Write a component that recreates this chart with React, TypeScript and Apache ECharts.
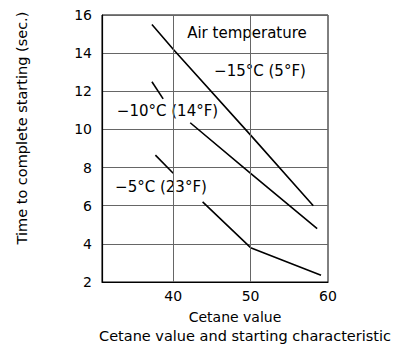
import React, { useEffect, useRef } from "react";
import * as echarts from "echarts";

// Y axis ticks (sec.)
const yTicks = [2, 4, 6, 8, 10, 12, 14, 16];
// X axis labels (cetane value)
const xLabels = [40, 50, 60];
const xGridValues = [40, 50];

// -15°C (5°F)
const cetaneM15 = [37.25, 40, 50, 58.1];
const timeM15 = [15.5, 14.2, 9.7, 6.0];
// -10°C (14°F), two drawn segments
const cetaneM10a = [37.25, 38.7];
const timeM10a = [12.5, 11.6];
const cetaneM10b = [42.2, 50, 58.6];
const timeM10b = [10.35, 7.7, 4.8];
// -5°C (23°F), two drawn segments
const cetaneM5a = [37.7, 40];
const timeM5a = [8.65, 7.7];
const cetaneM5b = [43.8, 50, 59.1];
const timeM5b = [6.2, 3.8, 2.35];

const labelTexts = ["Air temperature", "−15°C (5°F)", "−10°C (14°F)", "−5°C (23°F)"];
const yName = "Time to complete starting (sec.)";
const xName = "Cetane value";
const titleText = "Cetane value and starting characteristic";

const FONT = "DejaVu Sans";

const zip = (xs: number[], ys: number[]) => xs.map((x, i) => [x, ys[i]]);

export default function App() {
  const ref = useRef<HTMLDivElement>(null);
  useEffect(() => {
    if (!ref.current) return;
    const chart = echarts.init(ref.current, undefined, { renderer: "svg" });
    const lineStyle = { color: "#000", width: 1.6 };
    const mk = (name: string, xs: number[], ys: number[], extra: any = {}) => ({
      type: "line",
      name,
      data: zip(xs, ys),
      symbol: "none",
      showSymbol: false,
      lineStyle,
      silent: true,
      ...extra,
    });
    const txt = (text: string, x: number, y: number, size: number, rotation = 0) => ({
      type: "text",
      x,
      y,
      rotation,
      silent: true,
      style: {
        text,
        fill: "#000",
        font: `${size}px "${FONT}"`,
        textAlign: "center",
        textVerticalAlign: "middle",
      },
    });
    chart.setOption({
      animation: false,
      backgroundColor: "#fff",
      grid: {
        left: 102,
        top: 15,
        right: 81,
        bottom: 65,
        show: true,
        borderColor: "#000",
        borderWidth: 1,
      },
      xAxis: {
        type: "value",
        min: 30.8,
        max: 60,
        axisLine: { show: true, lineStyle: { color: "#000", width: 1.2 } },
        axisTick: { show: false },
        splitLine: { show: false },
        axisLabel: {
          customValues: xLabels,
          color: "#000",
          fontFamily: FONT,
          fontSize: 14,
          margin: 7,
        },
      },
      yAxis: {
        type: "value",
        min: yTicks[0],
        max: yTicks[yTicks.length - 1],
        interval: 2,
        axisLine: { show: true, lineStyle: { color: "#000", width: 1.2 } },
        axisTick: { show: false },
        splitLine: { show: true, lineStyle: { color: "#666", width: 1 } },
        axisLabel: {
          color: "#000",
          fontFamily: FONT,
          fontSize: 14,
          margin: 10,
        },
      },
      series: [
        mk("-15", cetaneM15, timeM15, {
          markLine: {
            silent: true,
            symbol: "none",
            label: { show: false },
            lineStyle: { color: "#666", width: 1, type: "solid" },
            data: xGridValues.map((v) => ({ xAxis: v })),
          },
        }),
        mk("-10a", cetaneM10a, timeM10a),
        mk("-10b", cetaneM10b, timeM10b),
        mk("-5a", cetaneM5a, timeM5a),
        mk("-5b", cetaneM5b, timeM5b),
      ],
      graphic: [
        txt(labelTexts[0], 247, 33, 15),
        txt(labelTexts[1], 260, 71, 15),
        txt(labelTexts[2], 167.5, 111, 15),
        txt(labelTexts[3], 161, 187, 15),
        txt(yName, 22, 128, 14.5, Math.PI / 2),
        txt(xName, 235, 317, 14),
        txt(titleText, 245, 336, 14.5),
      ],
    });
    return () => chart.dispose();
  }, []);
  return (
    <div
      ref={ref}
      style={{ position: "absolute", left: 0, top: 0, width: 409, height: 347 }}
    />
  );
}
